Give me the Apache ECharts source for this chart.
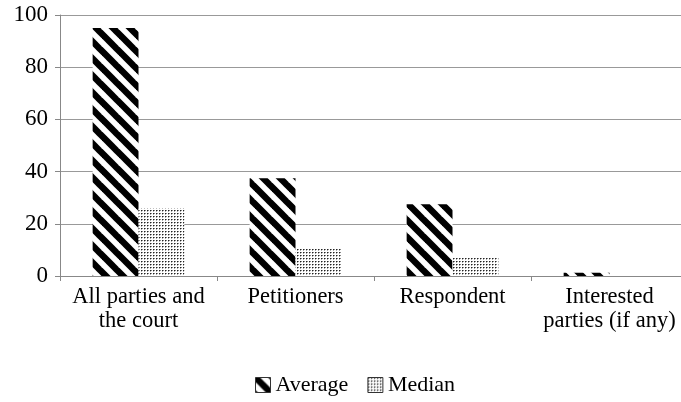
<!DOCTYPE html>
<html>
<head>
<meta charset="utf-8">
<script src="https://cdn.jsdelivr.net/npm/echarts@6/dist/echarts.min.js"></script>
<style>
  html, body { margin: 0; padding: 0; background: #fff; }
  #chart { width: 681px; height: 402px; }
</style>
</head>
<body>
<div id="chart"></div>
<script>
const categories = ["All parties and\nthe court", "Petitioners", "Respondent", "Interested\nparties (if any)"];
const averageValues = [95, 37.5, 27.5, 1.2];
const medianValues = [26, 10.5, 7.3, 0.2];
const yTicks = { min: 0, max: 100, interval: 20 };

// diagonal black stripes, "\" direction
function stripePattern() {
  const P = 17;
  const c = document.createElement("canvas");
  c.width = P;
  c.height = P;
  const ctx = c.getContext("2d");
  ctx.fillStyle = "#fff";
  ctx.fillRect(0, 0, P, P);
  ctx.strokeStyle = "#000";
  ctx.lineWidth = 6.5;
  for (let k = -1; k <= 1; k++) {
    ctx.beginPath();
    ctx.moveTo(-2, -2 + k * P);
    ctx.lineTo(P + 2, P + 2 + k * P);
    ctx.stroke();
  }
  return c;
}

// fine grey dots
function dotPattern() {
  const c = document.createElement("canvas");
  c.width = 3;
  c.height = 3;
  const ctx = c.getContext("2d");
  ctx.fillStyle = "#fff";
  ctx.fillRect(0, 0, 3, 3);
  ctx.fillStyle = "#222";
  ctx.fillRect(0, 0, 1, 1);
  ctx.fillStyle = "#888";
  ctx.fillRect(1, 0, 1, 1);
  ctx.fillStyle = "#aaa";
  ctx.fillRect(0, 1, 1, 1);
  return c;
}

const chart = echarts.init(document.getElementById("chart"));
const font = "Liberation Serif";

const option = {
  animation: false,
  backgroundColor: "#fff",
  textStyle: { fontFamily: font, color: "#000" },
  grid: { left: 60, top: 15, width: 628, height: 261, outerBoundsMode: "none", containLabel: false },
  legend: {
    left: 250,
    top: 369,
    icon: "rect",
    itemWidth: 15,
    itemHeight: 15,
    itemGap: 19,
    textStyle: { fontFamily: font, fontSize: 22, color: "#000" },
    itemStyle: { borderColor: "#333", borderWidth: 1 },
    data: ["Average", "Median"],
  },
  xAxis: {
    type: "category",
    data: categories,
    axisLine: { lineStyle: { color: "#888", width: 1 } },
    axisTick: { show: true, length: 5, lineStyle: { color: "#888" } },
    axisLabel: {
      interval: 0,
      margin: 9,
      fontFamily: font,
      fontSize: 22.5,
      color: "#000",
      lineHeight: 24,
    },
  },
  yAxis: {
    type: "value",
    min: yTicks.min,
    max: yTicks.max,
    interval: yTicks.interval,
    axisLine: { show: true, lineStyle: { color: "#888", width: 1 } },
    axisTick: { show: true, length: 5, lineStyle: { color: "#888" } },
    axisLabel: { fontFamily: font, fontSize: 23, color: "#000", margin: 12 },
    splitLine: { lineStyle: { color: "#999", width: 1 } },
  },
  series: [
    {
      name: "Average",
      type: "bar",
      data: averageValues,
      barGap: "0%",
      barCategoryGap: "41.6%",
      itemStyle: { color: { image: stripePattern(), repeat: "repeat" } },
    },
    {
      name: "Median",
      type: "bar",
      data: medianValues,
      itemStyle: { color: { image: dotPattern(), repeat: "repeat" } },
    },
  ],
};

chart.setOption(option);
</script>
</body>
</html>
